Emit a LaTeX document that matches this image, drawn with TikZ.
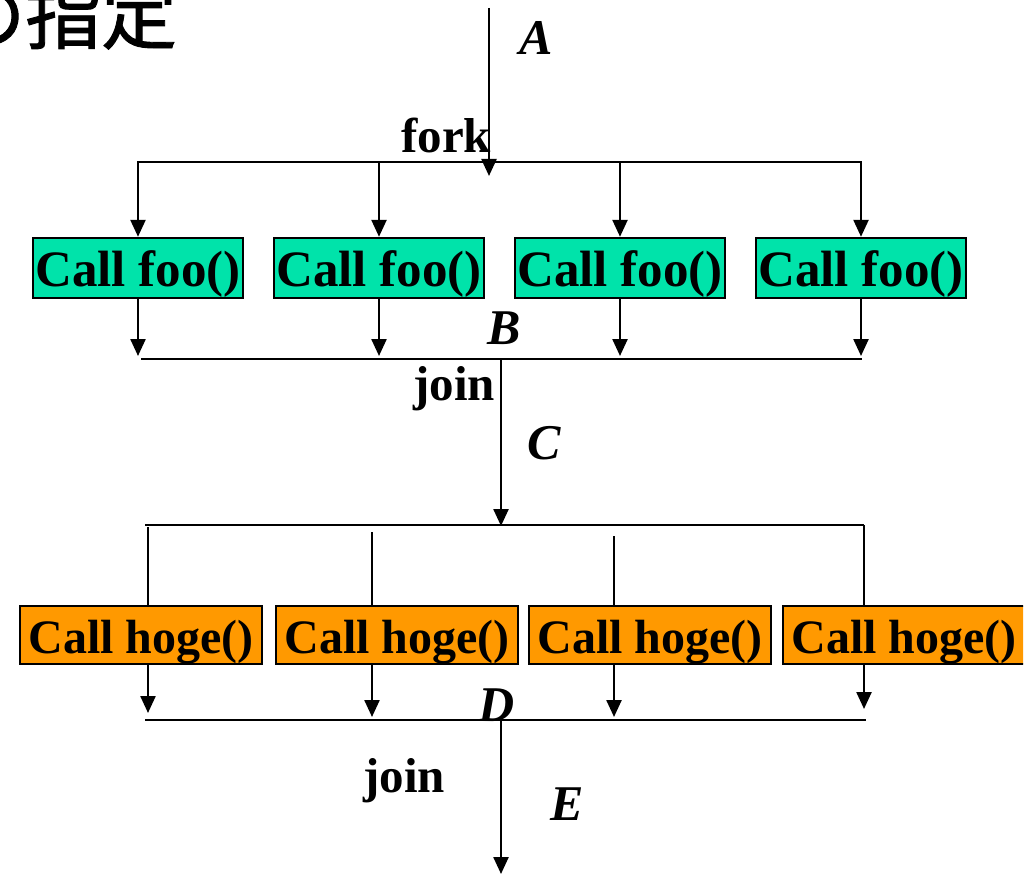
\documentclass[tikz,border=0pt]{standalone}
\usepackage{fontspec}
\setmainfont{Liberation Serif}
\newfontfamily\cjk[FakeBold=1.2]{Noto Sans CJK JP}
\usetikzlibrary{arrows.meta}
\definecolor{teal1}{HTML}{00E3AA}
\definecolor{orng}{HTML}{FF9900}
\begin{document}
\begin{tikzpicture}[x=1pt,y=-1pt,
  ln/.style={line width=2.4pt},
  arr/.style={ln,-{Triangle[length=17pt,width=15pt]}},
  foobox/.style={draw,line width=2.4pt,fill=teal1,minimum width=210pt,minimum height=60pt,inner sep=0pt,text height=38pt,text depth=0pt,font=\fontsize{51}{51}\selectfont\bfseries},
  hogebox/.style={draw,line width=2.4pt,fill=orng,minimum width=242pt,minimum height=58pt,inner sep=0pt,text height=36pt,text depth=0pt,font=\fontsize{48}{48}\selectfont\bfseries},
  lbl/.style={inner sep=0pt,font=\fontsize{50}{50}\selectfont\bfseries\itshape},
  word/.style={inner sep=0pt,anchor=base west,font=\fontsize{49}{49}\selectfont\bfseries}]
\useasboundingbox (0,0) rectangle (1032,874);
\clip (0,0) rectangle (1023,874);
% title fragment
\node[inner sep=0pt,anchor=base west,font=\cjk\fontsize{76}{76}\selectfont] (title) at (-51,43) {の指定};
% top input
\coordinate (top) at (489,8);
\coordinate (forktip) at (489,176);
\coordinate (fkL) at (137,162);
\coordinate (fkR) at (862,162);
\draw[arr] (top) -- (forktip);
\draw[ln] (fkL) -- (fkR);
\node[word] (fork) at (401,153) {fork};
\node[lbl] (A) at (536,38) {A};
% foo boxes
\node[foobox] (foo1) at (138,268) {Call foo()};
\node[foobox] (foo2) at (379,268) {Call foo()};
\node[foobox] (foo3) at (620,268) {Call foo()};
\node[foobox] (foo4) at (861,268) {Call foo()};
\coordinate (jnL) at (141,359);
\coordinate (jnR) at (862,359);
\coordinate (jtip) at (0,356);
\foreach \n in {foo1,foo2,foo3,foo4}{
  \draw[arr] (\n.north |- fkL) -- (\n.north);
  \draw[arr] (\n.south) -- (\n.south |- jtip);
}
\draw[ln] (jnL) -- (jnR);
\node[lbl] (B) at (504,328) {B};
\node[word] (join1) at (413,400) {join};
% to second fork
\coordinate (j1) at (501,359);
\coordinate (f2tip) at (501,526);
\draw[arr] (j1) -- (f2tip);
\node[lbl] (C) at (544,443) {C};
\coordinate (fk2L) at (145,525);
\coordinate (fk2R) at (864,525);
\draw[ln] (fk2L) -- (fk2R);
% hoge boxes
\node[hogebox] (hoge1) at (141,635) {Call hoge()};
\node[hogebox] (hoge2) at (397,635) {Call hoge()};
\node[hogebox] (hoge3) at (650,635) {Call hoge()};
\node[hogebox] (hoge4) at (904,635) {Call hoge()};
\coordinate (b1) at (148,527);
\coordinate (b2) at (372,532);
\coordinate (b3) at (614,536);
\coordinate (b4) at (864,525);
\coordinate (e1) at (148,713);
\coordinate (e2) at (372,717);
\coordinate (e3) at (614,717);
\coordinate (e4) at (864,709);
\draw[ln] (b1) -- (b1 |- hoge1.north);
\draw[ln] (b2) -- (b2 |- hoge2.north);
\draw[ln] (b3) -- (b3 |- hoge3.north);
\draw[ln] (b4) -- (b4 |- hoge4.north);
\draw[arr] (b1 |- hoge1.south) -- (e1);
\draw[arr] (b2 |- hoge2.south) -- (e2);
\draw[arr] (b3 |- hoge3.south) -- (e3);
\draw[arr] (b4 |- hoge4.south) -- (e4);
\coordinate (jn2L) at (145,720);
\coordinate (jn2R) at (866,720);
\draw[ln] (jn2L) -- (jn2R);
\node[lbl] (D) at (497,705) {D};
\coordinate (j2) at (501,720);
\coordinate (out) at (501,874);
\draw[arr] (j2) -- (out);
\node[word] (join2) at (363,792) {join};
\node[lbl] (E) at (567,804) {E};
\end{tikzpicture}
\end{document}
